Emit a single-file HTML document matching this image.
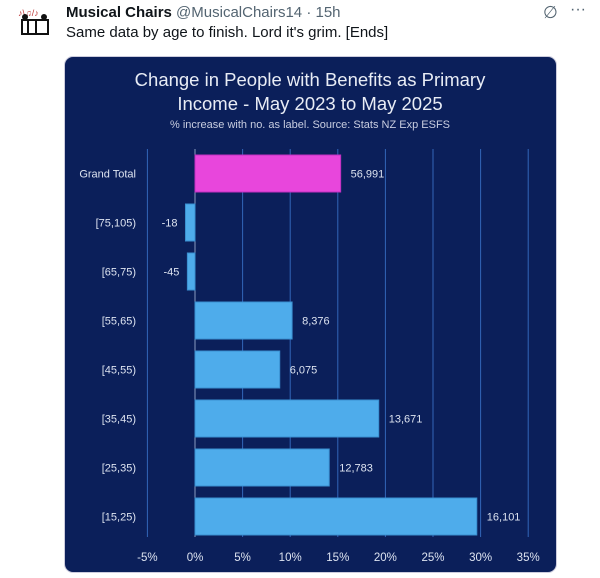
<!DOCTYPE html>
<html><head><meta charset="utf-8"><style>
body{margin:0;width:600px;height:578px;background:#fff;overflow:hidden;font-family:"Liberation Sans",sans-serif;position:relative}
.hdr{position:absolute;left:66px;top:4px;font-size:15px;color:#0f1419}
.txt{position:absolute;left:66px;top:24px;font-size:15px;color:#0f1419}
</style></head><body>
<div style="position:absolute;left:16px;top:6px;width:38px;height:32px">
<svg width="38" height="32"><text x="2" y="10" font-size="9" fill="#b33">♪\♫/♪</text><rect x="6" y="14" width="26" height="14" fill="none" stroke="#111" stroke-width="2"/><line x1="12" y1="14" x2="12" y2="28" stroke="#111" stroke-width="2"/><line x1="20" y1="14" x2="20" y2="28" stroke="#111" stroke-width="2"/><circle cx="9" cy="11" r="3" fill="#111"/><circle cx="28" cy="11" r="3" fill="#111"/></svg></div>
<div class="hdr"><b>Musical Chairs</b> <span style="color:#536471">@MusicalChairs14 · 15h</span></div>
<div style="position:absolute;left:543px;top:3px;font-size:17px;color:#536471">∅</div>
<div style="position:absolute;left:570px;top:1px;font-size:16px;color:#536471">···</div>
<div class="txt">Same data by age to finish. Lord it's grim. [Ends]</div>
<div style="position:absolute;left:64px;top:56px;width:491px;height:515px;background:#0b1f5a;border-radius:9px;border:1px solid #ccd"></div>
<svg id="chart" width="600" height="578" style="position:absolute;left:0;top:0;font-family:'Liberation Sans',sans-serif">
<text x="310" y="86" text-anchor="middle" font-size="18.5" fill="#e8ecf5">Change in People with Benefits as Primary</text>
<text x="310" y="110" text-anchor="middle" font-size="18.5" fill="#e8ecf5">Income - May 2023 to May 2025</text>
<text x="310" y="128" text-anchor="middle" font-size="11" fill="#c8cde0">% increase with no. as label. Source: Stats NZ Exp ESFS</text>
<g id="g"></g>
</svg>
<script>
const categories=["Grand Total","[75,105)","[65,75)","[55,65)","[45,55)","[35,45)","[25,35)","[15,25)"];
const pctValues=[15.3,-1.0,-0.8,10.2,8.9,19.3,14.1,29.6];
const countLabels=["56,991","-18","-45","8,376","6,075","13,671","12,783","16,101"];
const ticks=[-5,0,5,10,15,20,25,30,35];
const NS="http://www.w3.org/2000/svg";
const g=document.getElementById('g');
const x=v=>195+v*9.52;
const yc=i=>173.5+i*49;
function el(t,a){const e=document.createElementNS(NS,t);for(const k in a)e.setAttribute(k,a[k]);g.appendChild(e);return e;}
ticks.forEach(t=>{
 const l=el('line',{x1:x(t),x2:x(t),y1:149,y2:537,stroke:t===0?'#8a9bc0':'#3366b8','stroke-width':1});
 
 
 const tx=el('text',{x:x(t),y:561,'text-anchor':'middle','font-size':11.5,fill:'#dde3f0'});
 tx.textContent=t+'%';
 
 
});
categories.forEach((c,i)=>{
 const v=pctValues[i],x0=Math.min(x(0),x(v)),w=Math.abs(x(v)-x(0));
 const r=el('rect',{x:x0,y:yc(i)-18.5,width:w,height:37,fill:i===0?'#e846dc':'#4eaceb',stroke:i===0?'#c030c0':'#3a8fd0','stroke-width':1});
 
 
 const cl=el('text',{x:136,y:yc(i)+4,'text-anchor':'end','font-size':11,fill:'#dde3f0'});
 cl.textContent=c;
 
 
 const vl=el('text',{x:v<0?x(v)-8:x(v)+10,y:yc(i)+4,'text-anchor':v<0?'end':'start','font-size':11,fill:'#dde3f0'});
 vl.textContent=countLabels[i];
 
 
});
</script>
</body></html>
